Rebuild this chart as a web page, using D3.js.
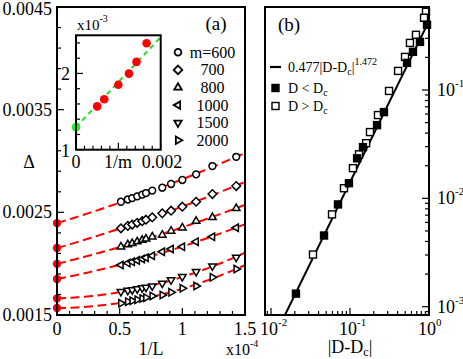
<!DOCTYPE html>
<html>
<head>
<meta charset="utf-8">
<script src="https://cdn.jsdelivr.net/npm/d3@7"></script>
<style>
  body { margin: 0; background: #fff; }
  svg { display: block; }
</style>
</head>
<body>
<div id="chart"></div>
<script>
// ---- panel (a): Delta vs 1/L (x10^-4), one series per m
const invL = [0.51, 0.565, 0.6, 0.64, 0.68, 0.71, 0.76, 0.84, 0.91, 1.0, 1.11, 1.24, 1.43];
const mValues = [600, 700, 800, 1000, 1500, 2000];
const legendLabels = ["m=600", "700", "800", "1000", "1500", "2000"];
const symbolKinds = ["circle", "diamond", "up", "left", "down", "right"];

const delta600  = [2.603, 2.625, 2.639, 2.656, 2.673, 2.688, 2.712, 2.740, 2.776, 2.815, 2.870, 2.951, 3.041];
const delta700  = [2.344, 2.368, 2.381, 2.398, 2.414, 2.428, 2.451, 2.490, 2.516, 2.555, 2.603, 2.678, 2.756];
const delta800  = [2.165, 2.186, 2.198, 2.214, 2.229, 2.241, 2.262, 2.279, 2.318, 2.350, 2.415, 2.451, 2.539];
const delta1000 = [1.987, 2.006, 2.018, 2.032, 2.046, 2.058, 2.077, 2.116, 2.143, 2.165, 2.214, 2.262, 2.350];
const delta1500 = [1.727, 1.739, 1.745, 1.754, 1.763, 1.770, 1.782, 1.809, 1.841, 1.873, 1.922, 1.977, 2.062];
const delta2000 = [1.614, 1.630, 1.638, 1.649, 1.661, 1.669, 1.685, 1.695, 1.721, 1.760, 1.782, 1.867, 1.948];
// values at 1/L = 0 (x10^-3), also shown in the inset against 1/m
const deltaInf = [2.395, 2.152, 1.998, 1.851, 1.662, 1.568];

// inset: linear extrapolation in 1/m (x10^-3)
const insetFitX = [0, 0.002];
const insetFitY = [1.296, 2.476];

// ---- panel (b): gap vs |D - Dc|
const belowX = [0.944, 0.769, 0.627, 0.527, 0.269, 0.220, 0.146, 0.123, 0.097, 0.0705, 0.0469, 0.0207];
const belowY = [0.40, 0.278, 0.225, 0.178, 0.0625, 0.0474, 0.0297, 0.0234, 0.0138, 0.00879, 0.00454, 0.00132];
const aboveX = [0.916, 0.865, 0.684, 0.574, 0.497, 0.406, 0.312, 0.226, 0.179, 0.160, 0.130, 0.109, 0.0839, 0.0592, 0.0340];
const aboveY = [0.527, 0.464, 0.323, 0.272, 0.202, 0.150, 0.098, 0.0587, 0.0409, 0.0323, 0.0255, 0.0190, 0.0124, 0.00711, 0.00303];
const powerLawX = [0.01503, 1.0];
const powerLawY = [0.000838, 0.434];

const W = 463, H = 359;
const FONT = 18;
const SERIF = "'Liberation Serif', 'Times New Roman', serif";

const svg = d3.select("#chart").append("svg")
    .attr("width", W).attr("height", H)
    .attr("viewBox", [0, 0, W, H])
    .attr("font-family", SERIF);

const defs = svg.append("defs");

function clip(id, x0, y0, x1, y1) {
    defs.append("clipPath").attr("id", id)
        .append("rect").attr("x", x0).attr("y", y0)
        .attr("width", x1 - x0).attr("height", y1 - y0);
    return `url(#${id})`;
}

function symbolPath(kind, r) {
    if (kind === "circle") {
        const p = d3.path();
        p.arc(0, 0, r, 0, 2 * Math.PI);
        p.closePath();
        return p.toString();
    }
    if (kind === "diamond") return `M0,${-r}L${r},0L0,${r}L${-r},0Z`;
    const rot = { up: 0, right: 90, down: 180, left: 270 }[kind];
    const pts = [0, 120, 240].map(a => {
        const t = (a + rot - 90) * Math.PI / 180;
        return [r * Math.cos(t), r * Math.sin(t)];
    });
    return "M" + pts.map(p => p.join(",")).join("L") + "Z";
}

function frame(x0, y0, x1, y1) {
    svg.append("rect")
        .attr("x", x0).attr("y", y0)
        .attr("width", x1 - x0).attr("height", y1 - y0)
        .attr("fill", "none").attr("stroke", "#000").attr("stroke-width", 2);
}

function ticks(values, pos, isMajor, side, edge) {
    // side: "bottom" ticks go up from edge, "left" go right, "right" go left
    values.forEach(v => {
        const p = pos(v), len = isMajor(v) ? 7 : 4;
        const line = svg.append("line").attr("stroke", "#000").attr("stroke-width", 1.2);
        if (side === "bottom") line.attr("x1", p).attr("x2", p).attr("y1", edge).attr("y2", edge - len);
        if (side === "left") line.attr("y1", p).attr("y2", p).attr("x1", edge).attr("x2", edge + len);
        if (side === "right") line.attr("y1", p).attr("y2", p).attr("x1", edge).attr("x2", edge - len);
    });
}

// quadratic fit with fixed intercept a: y = a + b x + c x^2
function fitQuadratic(xs, ys, a) {
    let s2 = 0, s3 = 0, s4 = 0, t1 = 0, t2 = 0;
    xs.forEach((x, i) => {
        const u = ys[i] - a;
        s2 += x * x; s3 += x ** 3; s4 += x ** 4;
        t1 += x * u; t2 += x * x * u;
    });
    const det = s2 * s4 - s3 * s3;
    const b = (t1 * s4 - t2 * s3) / det;
    const c = (s2 * t2 - s3 * t1) / det;
    return x => a + b * x + c * x * x;
}

// ================= panel (a) =================
const A = { left: 57, right: 245, top: 7, bottom: 315 };
const xA = d3.scaleLinear().domain([0, 1.5]).range([A.left, A.right]);
const yA = d3.scaleLinear().domain([1.5, 4.5]).range([A.bottom, A.top]);   // x10^-3
const clipA = clip("clipA", A.left, A.top, A.right, A.bottom);

const seriesA = [delta600, delta700, delta800, delta1000, delta1500, delta2000];

const fitGroup = svg.append("g").attr("clip-path", clipA);
seriesA.forEach((ys, i) => {
    const f = fitQuadratic(invL, ys, deltaInf[i]);
    const pts = d3.range(0, 1.5001, 0.02).map(x => [x, f(x)]);
    fitGroup.append("path")
        .attr("d", d3.line().x(d => xA(d[0])).y(d => yA(d[1]))(pts))
        .attr("fill", "none").attr("stroke", "#ff0000")
        .attr("stroke-width", 2).attr("stroke-dasharray", "9,4.5");
});

seriesA.forEach((ys, i) => {
    svg.append("g").selectAll("path")
        .data(ys.map((y, j) => [invL[j], y]))
        .join("path")
        .attr("transform", d => `translate(${xA(d[0])},${yA(d[1])})`)
        .attr("d", symbolPath(symbolKinds[i], symbolKinds[i] === "circle" ? 3.4 : 4.3))
        .attr("fill", "#fff").attr("stroke", "#000").attr("stroke-width", 1.5);
});

svg.append("g").selectAll("circle")
    .data(deltaInf)
    .join("circle")
    .attr("cx", xA(0)).attr("cy", d => yA(d)).attr("r", 4.2)
    .attr("fill", "#ff0000");

frame(A.left, A.top, A.right, A.bottom);
ticks(d3.range(0, 1.501, 0.1), xA, v => Math.abs(v * 2 - Math.round(v * 2)) < 1e-6, "bottom", A.bottom);
ticks(d3.range(1.5, 4.501, 0.2), yA, v => Math.abs(v - Math.round(v - 0.5) - 0.5) < 1e-6, "left", A.left);

svg.append("g").selectAll("text")
    .data([0, 0.5, 1, 1.5])
    .join("text")
    .attr("x", d => xA(d)).attr("y", 335)
    .attr("text-anchor", "middle").attr("font-size", FONT)
    .text(d => d);

svg.append("g").selectAll("text")
    .data([1.5, 2.5, 3.5, 4.5])
    .join("text")
    .attr("x", 52).attr("y", d => Math.max(yA(d) + 6, 15))
    .attr("text-anchor", "end").attr("font-size", FONT)
    .text(d => (d / 1000).toFixed(4));

svg.append("text").attr("x", 151).attr("y", 355)
    .attr("text-anchor", "middle").attr("font-size", FONT).text("1/L");
const x10a = svg.append("text").attr("x", 226).attr("y", 355).attr("font-size", 16);
x10a.append("tspan").text("x10");
x10a.append("tspan").attr("font-size", 10).attr("dy", -8).text("-4");

svg.append("text").attr("x", 29).attr("y", 168)
    .attr("text-anchor", "middle").attr("font-size", FONT).text("Δ");
svg.append("text").attr("x", 216).attr("y", 30)
    .attr("text-anchor", "middle").attr("font-size", 19).text("(a)");

// legend (a)
legendLabels.forEach((lab, i) => {
    const y = 52.3 + i * 17.6;
    svg.append("path")
        .attr("transform", `translate(178,${y})`)
        .attr("d", symbolPath(symbolKinds[i], symbolKinds[i] === "circle" ? 3.4 : 4.3))
        .attr("fill", "#fff").attr("stroke", "#000").attr("stroke-width", 1.8);
    svg.append("text").attr("x", 212.5).attr("y", y + 5.5)
        .attr("text-anchor", "middle").attr("font-size", 16).text(lab);
});

// ================= inset =================
const I = { left: 76, right: 160.7, top: 35.3, bottom: 149.7 };
const xI = d3.scaleLinear().domain([0, 0.002]).range([I.left, I.right]);
const yI = d3.scaleLinear().domain([1, 2.5]).range([I.bottom, I.top]);
const clipI = clip("clipI", I.left, I.top, I.right, I.bottom);

svg.append("rect").attr("x", I.left).attr("y", I.top)
    .attr("width", I.right - I.left).attr("height", I.bottom - I.top).attr("fill", "#fff");

svg.append("path")
    .attr("clip-path", clipI)
    .attr("d", d3.line().x(d => xI(d[0])).y(d => yI(d[1]))(insetFitX.map((x, i) => [x, insetFitY[i]])))
    .attr("fill", "none").attr("stroke", "#22dd22")
    .attr("stroke-width", 2).attr("stroke-dasharray", "5,4");

svg.append("g").selectAll("circle")
    .data(mValues.map((m, i) => [1 / m, deltaInf[i]]))
    .join("circle")
    .attr("cx", d => xI(d[0])).attr("cy", d => yI(d[1])).attr("r", 4.3)
    .attr("fill", "#ff0000");
svg.append("circle").attr("cx", xI(insetFitX[0])).attr("cy", yI(insetFitY[0])).attr("r", 4.3)
    .attr("fill", "#22ee22");

frame(I.left, I.top, I.right, I.bottom);
ticks(d3.range(0, 0.00201, 0.0002), xI, v => Math.abs(v * 1000 - Math.round(v * 1000)) < 1e-6, "bottom", I.bottom);
ticks(d3.range(1, 2.41, 0.2), yI, v => Math.abs(v - Math.round(v)) < 1e-6, "left", I.left);

svg.append("text").attr("x", 70).attr("y", 80).attr("text-anchor", "end")
    .attr("font-size", FONT).text("2");
svg.append("text").attr("x", 70).attr("y", 157).attr("text-anchor", "end")
    .attr("font-size", FONT).text("1");
svg.append("text").attr("x", xI(0)).attr("y", 168).attr("text-anchor", "middle")
    .attr("font-size", FONT).text("0");
svg.append("text").attr("x", 118).attr("y", 168).attr("text-anchor", "middle")
    .attr("font-size", FONT).text("1/m");
svg.append("text").attr("x", 162).attr("y", 168).attr("text-anchor", "middle")
    .attr("font-size", FONT).text("0.002");
const x10i = svg.append("text").attr("x", 77).attr("y", 30).attr("font-size", 15);
x10i.append("tspan").text("x10");
x10i.append("tspan").attr("font-size", 10).attr("dy", -8).text("-3");

// ================= panel (b) =================
const B = { left: 265, right: 429, top: 7, bottom: 315 };
const xB = d3.scaleLog().domain([0.01, 1]).range([271, 429]);
const yB = d3.scaleLog().domain([0.001, 0.1]).range([306.7, 90]);
const clipB = clip("clipB", B.left, B.top, B.right, B.bottom);

svg.append("path")
    .attr("clip-path", clipB)
    .attr("d", d3.line().x(d => xB(d[0])).y(d => yB(d[1]))(powerLawX.map((x, i) => [x, powerLawY[i]])))
    .attr("fill", "none").attr("stroke", "#000").attr("stroke-width", 2);

const sq = 7;
svg.append("g").selectAll("rect")
    .data(aboveX.map((x, i) => [x, aboveY[i]]))
    .join("rect")
    .attr("x", d => xB(d[0]) - sq / 2).attr("y", d => yB(d[1]) - sq / 2)
    .attr("width", sq).attr("height", sq)
    .attr("fill", "#fff").attr("stroke", "#000").attr("stroke-width", 1.4);
svg.append("g").selectAll("rect")
    .data(belowX.map((x, i) => [x, belowY[i]]))
    .join("rect")
    .attr("x", d => xB(d[0]) - sq / 2).attr("y", d => yB(d[1]) - sq / 2)
    .attr("width", sq).attr("height", sq)
    .attr("fill", "#000").attr("stroke", "#000").attr("stroke-width", 1.4);

frame(B.left, B.top, B.right, B.bottom);

const logMinor = [];
[-4, -3, -2, -1, 0].forEach(e => d3.range(1, 10).forEach(k => logMinor.push(k * 10 ** e)));
const isDecade = v => Math.abs(Math.log10(v) - Math.round(Math.log10(v))) < 1e-6;
ticks(logMinor.filter(v => xB(v) > B.left + 1 && xB(v) <= B.right + 0.5), xB, isDecade, "bottom", B.bottom);
ticks(logMinor.filter(v => yB(v) < B.bottom - 1 && yB(v) > B.top + 1), yB, isDecade, "right", B.right);

[[0.01, "-2"], [0.1, "-1"], [1, "0"]].forEach(([v, e]) => {
    const t = svg.append("text").attr("x", xB(v) - 11).attr("y", 335)
        .attr("font-size", FONT);
    t.append("tspan").text("10");
    t.append("tspan").attr("font-size", 11).attr("dy", -9).text(e);
});
[[0.1, "-1"], [0.01, "-2"], [0.001, "-3"]].forEach(([v, e]) => {
    const t = svg.append("text").attr("x", 437).attr("y", yB(v) + 6).attr("font-size", FONT);
    t.append("tspan").text("10");
    t.append("tspan").attr("font-size", 11).attr("dy", -9).text(e);
});

const xlab = svg.append("text").attr("x", 350).attr("y", 353)
    .attr("text-anchor", "middle").attr("font-size", FONT);
xlab.append("tspan").text("|D-D");
xlab.append("tspan").attr("font-size", 12).attr("dy", 3).text("c");
xlab.append("tspan").attr("dy", -3).text("|");

svg.append("text").attr("x", 289).attr("y", 31)
    .attr("text-anchor", "middle").attr("font-size", 19).text("(b)");

// legend (b)
svg.append("line").attr("x1", 270).attr("x2", 281).attr("y1", 67).attr("y2", 67)
    .attr("stroke", "#000").attr("stroke-width", 2.2);
const lt = svg.append("text").attr("x", 288).attr("y", 72).attr("font-size", 14);
lt.append("tspan").text("0.477|D-D");
lt.append("tspan").attr("font-size", 10).attr("dy", 3).text("c");
lt.append("tspan").attr("dy", -3).text("|");
lt.append("tspan").attr("font-size", 10).attr("dy", -7).text("1.472");

[["D < D", "#000", 88], ["D > D", "#fff", 106]].forEach(([lab, fill, y]) => {
    svg.append("rect").attr("x", 272).attr("y", y - 3.5).attr("width", 7).attr("height", 7)
        .attr("fill", fill).attr("stroke", "#000").attr("stroke-width", 1.4);
    const t = svg.append("text").attr("x", 288).attr("y", y + 5).attr("font-size", 14);
    t.append("tspan").text(lab);
    t.append("tspan").attr("font-size", 10).attr("dy", 3).text("c");
});
</script>
</body>
</html>
